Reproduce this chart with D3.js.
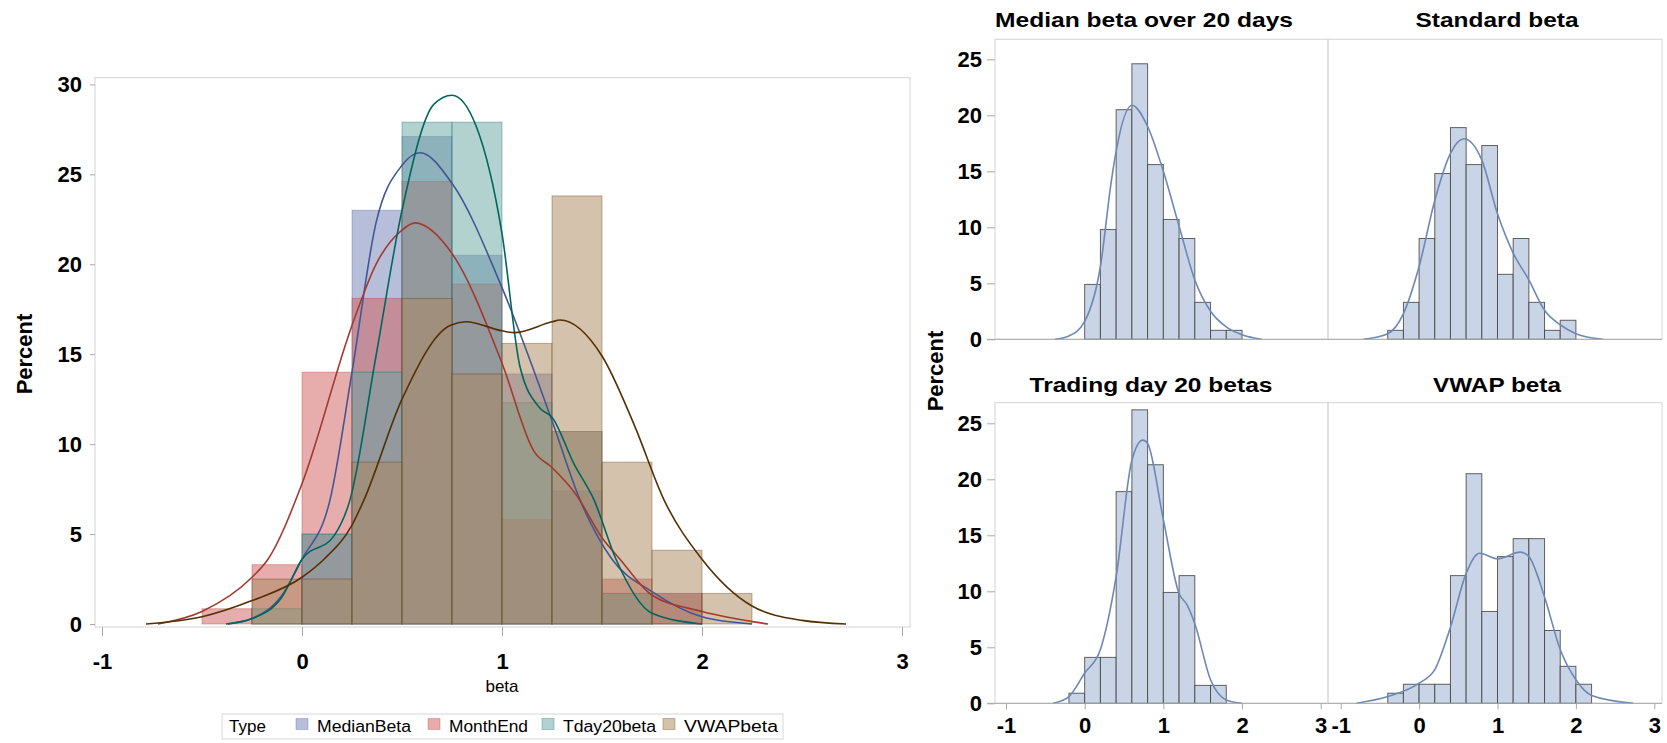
<!DOCTYPE html>
<html>
<head>
<meta charset="utf-8">
<script src="https://cdn.jsdelivr.net/npm/d3@7"></script>
<style>
  body { margin: 0; background: #fff; }
  svg { display: block; font-family: "Liberation Sans", Arial, sans-serif; }
</style>
</head>
<body>
<svg id="chart" width="1667" height="743"></svg>
<script>
// ---------- left overlay: histograms with bin width 0.25 ----------
const seriesNames = ["MedianBeta", "MonthEnd", "Tday20beta", "VWAPbeta"];
const overlayBinStarts = [-0.5, -0.25, 0, 0.25, 0.5, 0.75, 1, 1.25, 1.5, 1.75, 2];
const medianPct  = [0, 0, 5.0, 23.0, 27.1, 20.5, 13.9, 7.4, 1.7, 1.7, 0];
const monthEndPct = [0.85, 3.3, 14.0, 18.1, 24.6, 18.9, 5.8, 10.7, 2.5, 1.7, 0];
const tdayPct    = [0, 0.85, 5.0, 14.0, 27.9, 27.9, 12.3, 10.7, 1.7, 0, 0];
const vwapPct    = [0, 2.5, 2.5, 9.0, 18.1, 13.9, 15.6, 23.8, 9.0, 4.1, 1.7];

// density curves
const medianCurveX = [-0.37, -0.25, -0.1, 0, 0.14, 0.25, 0.37, 0.5, 0.59, 0.75, 1.0, 1.25, 1.39, 1.55, 1.75, 2.0, 2.25];
const medianCurveY = [0, 0.3, 1.6, 3.6, 6.9, 14.0, 22.3, 25.5, 26.2, 24.5, 18.7, 11.3, 6.9, 3.6, 1.8, 0.4, 0];
const monthEndCurveX = [-0.72, -0.5, -0.25, -0.17, 0, 0.25, 0.37, 0.5, 0.565, 0.75, 1.0, 1.16, 1.25, 1.37, 1.5, 1.59, 1.75, 2.0, 2.33];
const monthEndCurveY = [0, 0.7, 2.6, 3.6, 7.8, 16.6, 20.0, 21.9, 22.3, 20.6, 14.5, 9.6, 8.7, 7.2, 4.8, 3.6, 1.6, 0.7, 0];
const tdayCurveX = [-0.38, -0.25, -0.1, 0, 0.16, 0.24, 0.37, 0.5, 0.66, 0.75, 0.87, 1.0, 1.09, 1.19, 1.25, 1.36, 1.46, 1.57, 1.75, 2.0];
const tdayCurveY = [0, 0.3, 1.5, 3.6, 4.9, 6.9, 14.9, 23.0, 28.9, 29.4, 27.7, 21.7, 14.3, 12.0, 11.5, 8.9, 6.9, 3.6, 0.6, 0];
const vwapCurveX = [-0.78, -0.5, -0.25, 0, 0.11, 0.25, 0.31, 0.5, 0.74, 0.82, 1.0, 1.06, 1.25, 1.29, 1.5, 1.66, 1.81, 2.0, 2.25, 2.5, 2.72];
const vwapCurveY = [0, 0.4, 1.3, 2.6, 3.6, 5.5, 6.9, 12.5, 16.6, 16.8, 16.3, 16.2, 16.8, 16.9, 14.9, 11.1, 6.9, 3.6, 1.0, 0.2, 0];

const leftYTicks = [0, 5, 10, 15, 20, 25, 30];
const leftYLabels = ["0", "5", "10", "15", "20", "25", "30"];
const xTicks = [-1, 0, 1, 2, 3];
const xTickLabels = ["-1", "0", "1", "2", "3"];

// ---------- right panels: histograms with bin width 0.2 ----------
const panelTitles = ["Median beta over 20 days", "Standard beta", "Trading day 20 betas", "VWAP beta"];
const medianBinStarts = [0, 0.2, 0.4, 0.6, 0.8, 1.0, 1.2, 1.4, 1.6, 1.8];
const medianPanelPct  = [4.9, 9.8, 20.5, 24.6, 15.6, 10.7, 9.0, 3.3, 0.8, 0.8];
const standardBinStarts = [-0.4, -0.2, 0, 0.2, 0.4, 0.6, 0.8, 1.0, 1.2, 1.4, 1.6, 1.8];
const standardPanelPct  = [0.8, 3.3, 9.0, 14.8, 18.9, 15.6, 17.3, 5.8, 9.0, 3.3, 0.8, 1.7];
const tradingBinStarts = [-0.2, 0, 0.2, 0.4, 0.6, 0.8, 1.0, 1.2, 1.4, 1.6];
const tradingPanelPct  = [0.9, 4.1, 4.1, 18.9, 26.2, 21.3, 9.9, 11.4, 1.6, 1.6];
const vwapBinStarts = [-0.4, -0.2, 0, 0.2, 0.4, 0.6, 0.8, 1.0, 1.2, 1.4, 1.6, 1.8, 2.0];
const vwapPanelPct  = [0.9, 1.7, 1.7, 1.7, 11.4, 20.5, 8.2, 13.1, 14.7, 14.7, 6.5, 3.3, 1.7];

const medianPanelCurveX = [-0.38, -0.2, 0, 0.2, 0.34, 0.4, 0.6, 0.8, 1.0, 1.2, 1.4, 1.6, 1.8, 2.0, 2.25];
const medianPanelCurveY = [0, 0.3, 1.6, 6.5, 14.2, 16.8, 20.9, 19.0, 15.0, 10.1, 5.3, 2.5, 1.1, 0.4, 0];
const standardPanelCurveX = [-0.71, -0.4, -0.2, 0, 0.2, 0.4, 0.57, 0.8, 1.0, 1.2, 1.4, 1.6, 1.8, 2.0, 2.34];
const standardPanelCurveY = [0, 0.5, 2.3, 6.5, 12.4, 16.6, 17.9, 16.0, 11.2, 7.7, 5.3, 2.6, 1.3, 0.5, 0];
const tradingPanelCurveX = [-0.4, -0.2, 0, 0.2, 0.4, 0.6, 0.74, 0.8, 1.0, 1.2, 1.3, 1.4, 1.6, 1.8, 2.0];
const tradingPanelCurveY = [0, 0.6, 2.7, 4.8, 11.3, 21.7, 23.5, 23.2, 16.4, 9.8, 8.8, 7.1, 2.1, 0.3, 0];
const vwapPanelCurveX = [-0.8, -0.4, 0, 0.2, 0.4, 0.6, 0.77, 1.0, 1.29, 1.4, 1.6, 1.8, 2.0, 2.2, 2.73];
const vwapPanelCurveY = [0, 0.6, 1.8, 3.0, 6.8, 11.6, 13.4, 12.9, 13.5, 13.1, 9.5, 4.8, 2.1, 0.7, 0];

const panelYTicks = [0, 5, 10, 15, 20, 25];
const panelYLabels = ["0", "5", "10", "15", "20", "25"];

// ---------- drawing ----------
const svg = d3.select("#chart");
const fillColors = ["#6F7EB3", "#D05B5B", "#66A5A0", "#A9865B"];
const lineColors = ["#445694", "#A23A2E", "#01665E", "#543005"];
const frameColor = "#d4d4d4";
const tickColor = "#a8a8a8";

// left chart
const x = d3.scaleLinear().domain([-1, 3]).range([102, 902]);
const y = d3.scaleLinear().domain([0, 30]).range([624, 84.4]);

svg.append("rect")
  .attr("x", 95).attr("y", 77.6).attr("width", 815).attr("height", 549.4)
  .attr("fill", "none").attr("stroke", frameColor);

const overlayPct = [medianPct, monthEndPct, tdayPct, vwapPct];
overlayPct.forEach((vals, i) => {
  svg.append("g").selectAll("rect")
    .data(overlayBinStarts.map((s, j) => ({ s: s, v: vals[j] })).filter(d => d.v > 0))
    .enter()
    .append("rect")
    .attr("x", d => x(d.s))
    .attr("y", d => y(d.v))
    .attr("width", d => x(d.s + 0.25) - x(d.s))
    .attr("height", d => y(0) - y(d.v))
    .attr("fill", fillColors[i])
    .attr("fill-opacity", 0.5)
    .attr("stroke", lineColors[i])
    .attr("stroke-opacity", 0.35);
});

const overlayCurves = [
  d3.zip(medianCurveX, medianCurveY),
  d3.zip(monthEndCurveX, monthEndCurveY),
  d3.zip(tdayCurveX, tdayCurveY),
  d3.zip(vwapCurveX, vwapCurveY)
];
const line = d3.line().x(d => x(d[0])).y(d => y(d[1])).curve(d3.curveMonotoneX);
overlayCurves.forEach((pts, i) => {
  svg.append("path")
    .attr("d", line(pts))
    .attr("fill", "none")
    .attr("stroke", lineColors[i])
    .attr("stroke-width", 1.6);
});

// left axes
const yAxis = svg.append("g")
  .attr("transform", "translate(95,0)")
  .call(d3.axisLeft(y).tickValues(leftYTicks).tickFormat((d, i) => leftYLabels[i]).tickSize(5).tickPadding(8));
const xAxis = svg.append("g")
  .attr("transform", "translate(0,627)")
  .call(d3.axisBottom(x).tickValues(xTicks).tickFormat((d, i) => xTickLabels[i]).tickSize(9).tickPadding(17));
[yAxis, xAxis].forEach(g => {
  g.select(".domain").remove();
  g.selectAll(".tick line").attr("stroke", tickColor);
  g.selectAll(".tick text")
    .attr("fill", "#000")
    .style("font-size", "22px")
    .style("font-weight", "bold")
    .style("font-family", "'Liberation Sans', Arial, sans-serif");
});

svg.append("text")
  .attr("transform", "translate(24,354) rotate(-90)")
  .attr("text-anchor", "middle")
  .attr("dominant-baseline", "central")
  .style("font-size", "22px").style("font-weight", "bold")
  .text("Percent");

svg.append("text")
  .attr("x", 502).attr("y", 692)
  .attr("text-anchor", "middle")
  .style("font-size", "17px")
  .text("beta");

// legend
const legend = svg.append("g");
legend.append("rect")
  .attr("x", 222).attr("y", 714).attr("width", 561).attr("height", 25)
  .attr("fill", "#fff").attr("stroke", "#d8d8d8");
legend.append("text")
  .attr("x", 229).attr("y", 732)
  .style("font-size", "17px")
  .text("Type");
const swatchX = [296, 428, 542, 663];
const labelWidths = [94, 79, 93, 94];
seriesNames.forEach((name, i) => {
  legend.append("rect")
    .attr("x", swatchX[i]).attr("y", 718.5).attr("width", 12).attr("height", 11)
    .attr("fill", fillColors[i]).attr("fill-opacity", 0.5)
    .attr("stroke", lineColors[i]).attr("stroke-opacity", 0.3);
  legend.append("text")
    .attr("x", swatchX[i] + 21).attr("y", 732)
    .attr("textLength", labelWidths[i])
    .attr("lengthAdjust", "spacingAndGlyphs")
    .style("font-size", "16px")
    .text(name);
});

// right panels
const panelData = [
  { starts: medianBinStarts, pct: medianPanelPct, cx: medianPanelCurveX, cy: medianPanelCurveY },
  { starts: standardBinStarts, pct: standardPanelPct, cx: standardPanelCurveX, cy: standardPanelCurveY },
  { starts: tradingBinStarts, pct: tradingPanelPct, cx: tradingPanelCurveX, cy: tradingPanelCurveY },
  { starts: vwapBinStarts, pct: vwapPanelPct, cx: vwapPanelCurveX, cy: vwapPanelCurveY }
];
const colLeft = [995, 1328];
const colRight = [1328, 1662];
const colTickRange = [[1006, 1320.7], [1340.7, 1654.3]];
const rowTop = [39.3, 402.7];
const rowBottom = [339.3, 703.3];
const titlePos = [[1144, 27], [1497, 27], [1151, 392], [1497, 392]];
const titleWidths = [298, 163, 243, 128];

panelData.forEach((p, k) => {
  const col = k % 2, row = Math.floor(k / 2);
  const px = d3.scaleLinear().domain([-1, 3]).range(colTickRange[col]);
  const py = d3.scaleLinear().domain([0, 25]).range([rowBottom[row], rowBottom[row] - 280]);
  const g = svg.append("g");

  g.append("rect")
    .attr("x", colLeft[col]).attr("y", rowTop[row])
    .attr("width", colRight[col] - colLeft[col]).attr("height", rowBottom[row] - rowTop[row])
    .attr("fill", "none").attr("stroke", frameColor);

  g.selectAll(".bar")
    .data(p.starts.map((s, j) => ({ s: s, v: p.pct[j] })))
    .enter()
    .append("rect")
    .attr("x", d => px(d.s))
    .attr("y", d => py(d.v))
    .attr("width", d => px(d.s + 0.2) - px(d.s))
    .attr("height", d => py(0) - py(d.v))
    .attr("fill", "#c9d5e6")
    .attr("stroke", "#3c3c3c")
    .attr("stroke-opacity", 0.8);

  const pline = d3.line().x(d => px(d[0])).y(d => py(d[1])).curve(d3.curveMonotoneX);
  g.append("path")
    .attr("d", pline(d3.zip(p.cx, p.cy)))
    .attr("fill", "none")
    .attr("stroke", "#6c88b5")
    .attr("stroke-width", 1.6);

  // baseline
  g.append("line")
    .attr("x1", col === 0 ? colLeft[col] - 8 : colLeft[col]).attr("x2", colRight[col])
    .attr("y1", rowBottom[row]).attr("y2", rowBottom[row])
    .attr("stroke", tickColor);

  if (col === 0) {
    const ya = g.append("g")
      .attr("transform", `translate(${colLeft[col]},0)`)
      .call(d3.axisLeft(py).tickValues(panelYTicks).tickFormat((d, i) => panelYLabels[i]).tickSize(8).tickPadding(5));
    ya.select(".domain").remove();
    ya.selectAll(".tick line").attr("stroke", tickColor);
    ya.selectAll(".tick text").attr("fill", "#000")
      .style("font-size", "22px").style("font-weight", "bold")
      .style("font-family", "'Liberation Sans', Arial, sans-serif");
  }
  if (row === 1) {
    const xa = g.append("g")
      .attr("transform", `translate(0,${rowBottom[row]})`)
      .call(d3.axisBottom(px).tickValues(xTicks).tickFormat((d, i) => xTickLabels[i]).tickSize(6).tickPadding(8));
    xa.select(".domain").remove();
    xa.selectAll(".tick line").attr("stroke", tickColor);
    xa.selectAll(".tick text").attr("fill", "#000")
      .style("font-size", "22px").style("font-weight", "bold")
      .style("font-family", "'Liberation Sans', Arial, sans-serif");
  }

  svg.append("text")
    .attr("x", titlePos[k][0]).attr("y", titlePos[k][1])
    .attr("text-anchor", "middle")
    .attr("textLength", titleWidths[k])
    .attr("lengthAdjust", "spacingAndGlyphs")
    .style("font-size", "21px").style("font-weight", "bold")
    .text(panelTitles[k]);
});

svg.append("text")
  .attr("transform", "translate(935,371) rotate(-90)")
  .attr("text-anchor", "middle")
  .attr("dominant-baseline", "central")
  .style("font-size", "22px").style("font-weight", "bold")
  .text("Percent");
</script>
</body>
</html>
